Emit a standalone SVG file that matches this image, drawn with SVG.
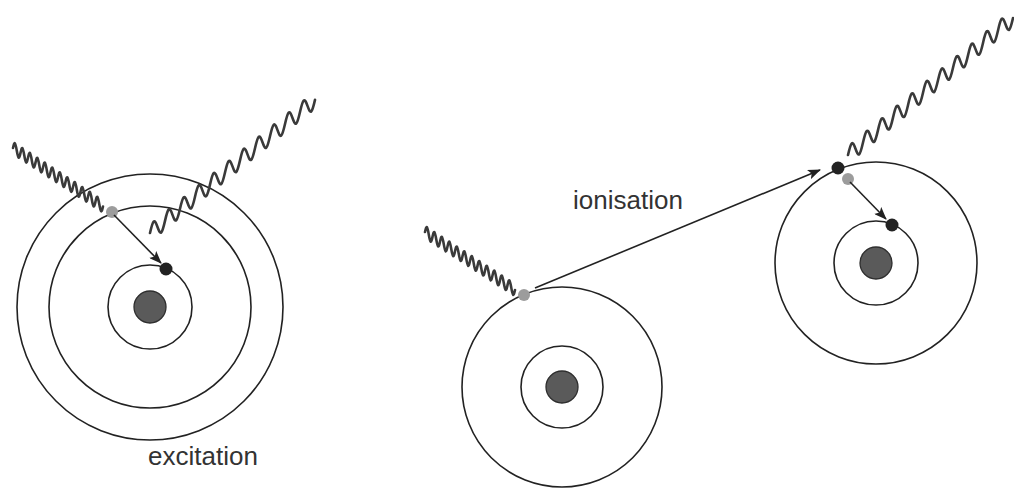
<svg xmlns="http://www.w3.org/2000/svg" width="1014" height="488" viewBox="0 0 1014 488">
  <style>
    .orbit { fill: none; stroke: #222; stroke-width: 1.6; }
    .nucleus { fill: #5a5a5a; stroke: #2e2e2e; stroke-width: 1.3; }
    .e-free { fill: #9c9c9c; }
    .e-bound { fill: #222; }
    .wave { fill: none; stroke: #3a3a3a; stroke-width: 2.6; stroke-linecap: round; vector-effect: non-scaling-stroke; }
    .link { fill: none; stroke: #222; stroke-width: 1.6; marker-end: url(#head); }
    .label { font-family: "Liberation Sans", Arial, sans-serif; font-size: 26px; fill: #333; }
  </style>
  <defs>
    <marker id="head" viewBox="0 0 13 10" refX="12" refY="5" markerWidth="13" markerHeight="10" markerUnits="userSpaceOnUse" orient="auto">
      <path d="M0 0 L13 5 L0 10 L3 5 Z" fill="#222"/>
    </marker>
    <!-- incoming photon: 12 periods of 7.5, amplitude 6 (sheared into place) -->
    <path id="photon-in" class="wave" d="M0 0 c0.61 -3.07 1.2 -6 1.875 -6
      s1.26 2.93 1.875 6 s1.2 6 1.875 6 s1.26 -2.93 1.875 -6 s1.2 -6 1.875 -6
      s1.26 2.93 1.875 6 s1.2 6 1.875 6 s1.26 -2.93 1.875 -6 s1.2 -6 1.875 -6
      s1.26 2.93 1.875 6 s1.2 6 1.875 6 s1.26 -2.93 1.875 -6 s1.2 -6 1.875 -6
      s1.26 2.93 1.875 6 s1.2 6 1.875 6 s1.26 -2.93 1.875 -6 s1.2 -6 1.875 -6
      s1.26 2.93 1.875 6 s1.2 6 1.875 6 s1.26 -2.93 1.875 -6 s1.2 -6 1.875 -6
      s1.26 2.93 1.875 6 s1.2 6 1.875 6 s1.26 -2.93 1.875 -6 s1.2 -6 1.875 -6
      s1.26 2.93 1.875 6 s1.2 6 1.875 6 s1.26 -2.93 1.875 -6 s1.2 -6 1.875 -6
      s1.26 2.93 1.875 6 s1.2 6 1.875 6 s1.26 -2.93 1.875 -6 s1.2 -6 1.875 -6
      s1.26 2.93 1.875 6 s1.2 6 1.875 6 s1.26 -2.93 1.875 -6 s1.2 -6 1.875 -6
      s1.26 2.93 1.875 6 s1.2 6 1.875 6 s1.26 -2.93 1.875 -6 s1.2 -6 1.875 -6
      s1.26 2.93 1.875 6 s1.2 6 1.875 6 s1.26 -2.93 1.875 -6 s1.2 -6 1.875 -6
      s1.26 2.93 1.875 6 s1.2 6 1.875 6 s1.26 -2.93 1.875 -6"/>
    <!-- emitted photon: 11 periods of 15, amplitude 8.5 (sheared into place) -->
    <path id="photon-out" class="wave" d="M0 0 c1.22 -4.35 2.39 -8.5 3.75 -8.5
      s2.53 4.15 3.75 8.5 s2.39 8.5 3.75 8.5 s2.53 -4.15 3.75 -8.5 s2.39 -8.5 3.75 -8.5
      s2.53 4.15 3.75 8.5 s2.39 8.5 3.75 8.5 s2.53 -4.15 3.75 -8.5 s2.39 -8.5 3.75 -8.5
      s2.53 4.15 3.75 8.5 s2.39 8.5 3.75 8.5 s2.53 -4.15 3.75 -8.5 s2.39 -8.5 3.75 -8.5
      s2.53 4.15 3.75 8.5 s2.39 8.5 3.75 8.5 s2.53 -4.15 3.75 -8.5 s2.39 -8.5 3.75 -8.5
      s2.53 4.15 3.75 8.5 s2.39 8.5 3.75 8.5 s2.53 -4.15 3.75 -8.5 s2.39 -8.5 3.75 -8.5
      s2.53 4.15 3.75 8.5 s2.39 8.5 3.75 8.5 s2.53 -4.15 3.75 -8.5 s2.39 -8.5 3.75 -8.5
      s2.53 4.15 3.75 8.5 s2.39 8.5 3.75 8.5 s2.53 -4.15 3.75 -8.5 s2.39 -8.5 3.75 -8.5
      s2.53 4.15 3.75 8.5 s2.39 8.5 3.75 8.5 s2.53 -4.15 3.75 -8.5 s2.39 -8.5 3.75 -8.5
      s2.53 4.15 3.75 8.5 s2.39 8.5 3.75 8.5 s2.53 -4.15 3.75 -8.5 s2.39 -8.5 3.75 -8.5
      s2.53 4.15 3.75 8.5 s2.39 8.5 3.75 8.5 s2.53 -4.15 3.75 -8.5 s2.39 -8.5 3.75 -8.5
      s2.53 4.15 3.75 8.5 s2.39 8.5 3.75 8.5 s2.53 -4.15 3.75 -8.5"/>
  </defs>
  <rect width="1014" height="488" fill="#fff"/>

  <!-- atom undergoing excitation -->
  <g id="atom-excitation">
    <circle class="orbit" cx="150" cy="307" r="133"/>
    <circle class="orbit" cx="150" cy="307" r="101"/>
    <circle class="orbit" cx="150" cy="307" r="42"/>
    <circle class="nucleus" cx="150" cy="307" r="16"/>
    <circle class="e-free" cx="112" cy="212" r="6"/>
    <circle class="e-bound" cx="166" cy="269" r="6.5"/>
    <text class="label" x="148" y="465">excitation</text>
  </g>

  <!-- atom undergoing ionisation -->
  <g id="atom-ionisation">
    <circle class="orbit" cx="562" cy="387" r="100"/>
    <circle class="orbit" cx="562" cy="387" r="41"/>
    <circle class="nucleus" cx="562" cy="387" r="16"/>
    <circle class="e-free" cx="524" cy="295" r="6"/>
    <text class="label" x="573" y="209">ionisation</text>
  </g>

  <!-- ion after electron loss, with relaxation -->
  <g id="ion-relaxed">
    <circle class="orbit" cx="876" cy="263" r="101"/>
    <circle class="orbit" cx="876" cy="263" r="42"/>
    <circle class="nucleus" cx="876" cy="263" r="16"/>
    <circle class="e-free" cx="848" cy="179" r="6"/>
    <circle class="e-bound" cx="838" cy="168" r="6.5"/>
    <circle class="e-bound" cx="892" cy="225" r="6.5"/>
  </g>

  <!-- photons -->
  <g id="photons">
    <use href="#photon-in" transform="translate(13 148) skewY(33)"/>
    <use href="#photon-out" transform="translate(150 233) skewY(-38.9)"/>
    <use href="#photon-in" transform="translate(425 232) skewY(32.8)"/>
    <use href="#photon-out" transform="translate(848 155) skewY(-39.7)"/>
  </g>

  <!-- electron transitions -->
  <g id="connectors">
    <line class="link" x1="114" y1="215" x2="161" y2="263"/>
    <line class="link" x1="535" y1="288" x2="820" y2="170"/>
    <line class="link" x1="850" y1="182" x2="886" y2="219"/>
  </g>
</svg>
